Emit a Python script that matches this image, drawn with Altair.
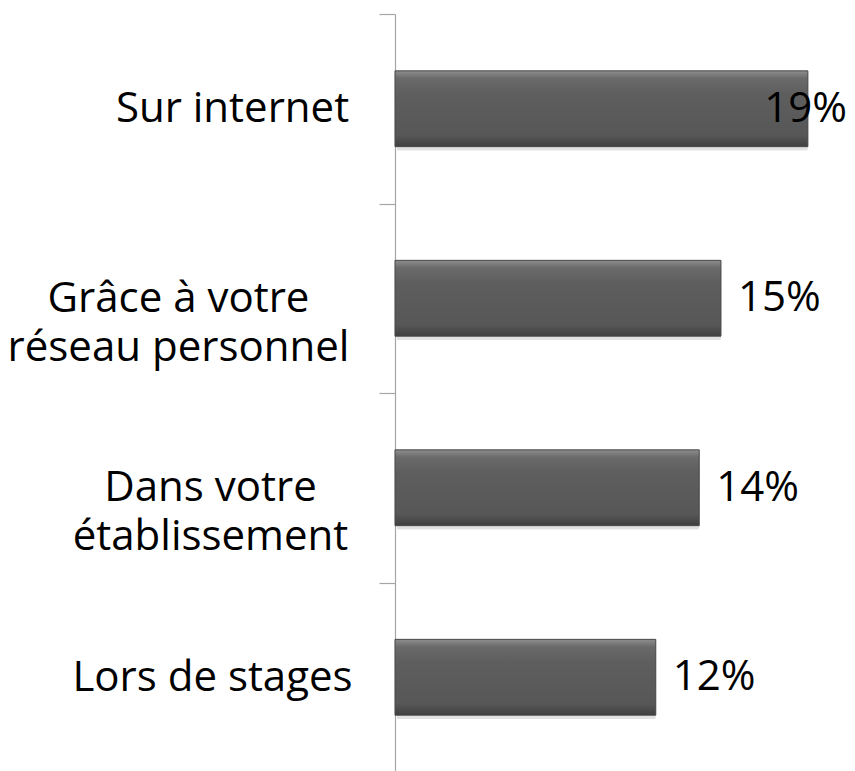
import altair as alt
import pandas as pd

categories = ["Sur internet", "Grâce à votre|réseau personnel", "Dans votre|établissement", "Lors de stages"]
values = [19, 15, 14, 12]

df = pd.DataFrame({"cat": categories, "pct": values})

FONT = "Open Sans"
AXIS_GRAY = "#a6a6a6"

# per-label padding so multi-line labels are centred line-by-line but block right-aligned
pad_map = {
    "Sur internet": 147,
    "Grâce à votre|réseau personnel": 201,
    "Dans votre|établissement": 169,
    "Lors de stages": 167,
}

label_pad = {
    "condition": [
        {"test": f"datum.value == '{k}'", "value": v} for k, v in list(pad_map.items())[:-1]
    ],
    "value": pad_map["Lors de stages"],
}

y_enc = alt.Y(
    "cat:N",
    sort=categories,
    scale=alt.Scale(paddingInner=0, paddingOuter=0),
    axis=alt.Axis(
        title=None,
        labelExpr="split(datum.label, '|')",
        labelFont=FONT,
        labelFontSize=42,
        labelColor="#000000",
        labelLineHeight=49,
        labelAlign="center",
        labelBaseline="middle",
        labelPadding=label_pad,
        tickBand="extent",
        tickSize=16,
        tickColor=AXIS_GRAY,
        tickWidth=1.2,
        domainColor=AXIS_GRAY,
        domainWidth=1.2,
        grid=False,
        labelLimit=0,
    ),
)

x_scale = alt.Scale(domain=[0, 20.8], nice=False, zero=True)
x_enc = alt.X("pct:Q", scale=x_scale, axis=None)

base = alt.Chart(df)

shadow = base.mark_bar(
    height={"band": 0.4}, color="#bdbdbd", opacity=0.45, yOffset=4, xOffset=2, cornerRadius=2
).encode(x=x_enc, y=y_enc)

bars = base.mark_bar(
    height={"band": 0.4},
    color=alt.Gradient(
        gradient="linear",
        x1=0, x2=0, y1=0, y2=1,
        stops=[
            alt.GradientStop(color="#8e8e8e", offset=0),
            alt.GradientStop(color="#6a6a6a", offset=0.1),
            alt.GradientStop(color="#5e5e5e", offset=0.3),
            alt.GradientStop(color="#575757", offset=0.85),
            alt.GradientStop(color="#3f3f3f", offset=1),
        ],
    ),
    stroke="#474747",
    strokeWidth=1,
).encode(x=x_enc, y=y_enc)

text_out = base.transform_filter("datum.pct <= 17").transform_calculate(
    lab="datum.pct + '%'"
).mark_text(
    align="left", baseline="middle", dx=17, font=FONT, fontSize=42, color="#000000"
).encode(x=x_enc, y=y_enc, text="lab:N")

text_in = base.transform_filter("datum.pct > 17").transform_calculate(
    lab="datum.pct + '%'"
).mark_text(
    align="right", baseline="middle", dx=0, font=FONT, fontSize=42, color="#000000"
).encode(x=alt.value(452), y=y_enc, text="lab:N")

chart = (
    alt.layer(shadow, bars, text_out, text_in)
    .properties(
        width=452,
        height=758,
        background="#ffffff",
        autosize=alt.AutoSizeParams(type="none"),
        padding={"left": 387, "top": 6, "right": 0, "bottom": 0},
    )
    .configure_view(stroke=None, strokeWidth=0)
)

chart.save("out.html", embed_options={"renderer": "svg", "actions": False})
